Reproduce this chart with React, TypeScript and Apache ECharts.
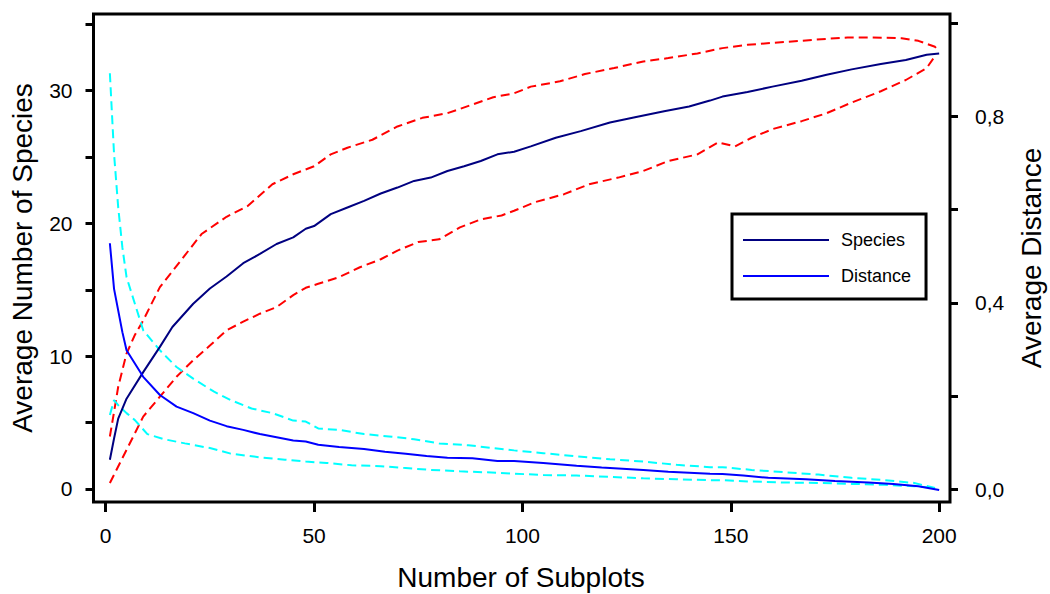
import React, { useEffect, useRef } from 'react';
import * as echarts from 'echarts';

// Number of subplots (x) and average number of species (left axis)
const speciesX = [1, 2, 3, 5, 9, 13, 16, 21, 25, 29, 33, 37, 41, 45, 48, 50, 54, 58, 62, 66, 70, 74, 78, 82, 86, 90, 94, 98, 102, 108, 114, 121, 127, 134, 140, 145, 148, 154, 160, 167, 173, 179, 186, 192, 197, 200];
const speciesY = [2.2, 3.8, 5.3, 6.8, 8.8, 10.7, 12.2, 13.95, 15.1, 16.0, 17.0, 17.7, 18.45, 18.95, 19.6, 19.8, 20.7, 21.2, 21.7, 22.25, 22.7, 23.2, 23.45, 23.95, 24.3, 24.7, 25.2, 25.4, 25.8, 26.45, 26.95, 27.6, 28.0, 28.45, 28.8, 29.25, 29.55, 29.9, 30.3, 30.75, 31.2, 31.6, 32.0, 32.3, 32.7, 32.8];

const speciesHiX = [1, 2, 3, 5, 7, 9, 13, 18, 23, 29, 34, 40, 45, 47, 50, 54, 58, 64, 70, 76, 82, 88, 93, 98, 102, 109, 115, 122, 129, 135, 142, 148, 154, 160, 167, 173, 178, 184, 191, 195, 199, 200];
const speciesHiY = [3.95, 5.8, 7.7, 10.2, 11.6, 12.7, 15.2, 17.2, 19.2, 20.5, 21.3, 22.95, 23.7, 23.95, 24.3, 25.2, 25.7, 26.3, 27.3, 27.95, 28.3, 28.95, 29.5, 29.8, 30.3, 30.7, 31.25, 31.7, 32.2, 32.45, 32.8, 33.2, 33.45, 33.6, 33.75, 33.9, 34.0, 34.0, 33.95, 33.75, 33.3, 32.95];

const speciesLoX = [1, 5, 9, 13, 17, 21, 25, 29, 33, 37, 41, 45, 48, 51, 56, 61, 66, 70, 75, 80, 85, 90, 95, 98, 103, 110, 116, 123, 129, 135, 142, 147, 151, 155, 160, 167, 173, 179, 186, 192, 197, 199];
const speciesLoY = [0.45, 2.95, 5.45, 6.95, 8.45, 9.7, 10.8, 11.95, 12.6, 13.2, 13.7, 14.6, 15.15, 15.45, 15.95, 16.7, 17.3, 17.95, 18.6, 18.8, 19.7, 20.3, 20.6, 20.95, 21.6, 22.2, 22.95, 23.45, 23.95, 24.7, 25.2, 26.1, 25.8, 26.45, 27.1, 27.7, 28.3, 29.1, 29.95, 30.8, 31.7, 32.6];

// Average distance (right axis)
const distanceX = [1, 2, 4, 5, 9, 13, 17, 21, 25, 29, 33, 37, 41, 45, 48, 51, 56, 62, 67, 72, 77, 82, 88, 94, 98, 105, 113, 119, 129, 135, 145, 148, 153, 159, 168, 175, 183, 189, 195, 200];
const distanceY = [0.528, 0.43, 0.337, 0.298, 0.241, 0.202, 0.177, 0.163, 0.147, 0.135, 0.127, 0.118, 0.111, 0.104, 0.102, 0.095, 0.09, 0.086, 0.08, 0.076, 0.071, 0.067, 0.066, 0.06, 0.06, 0.056, 0.05, 0.046, 0.041, 0.037, 0.033, 0.032, 0.029, 0.024, 0.021, 0.017, 0.014, 0.011, 0.006, -0.002];

const distanceHiX = [1, 2, 3, 4, 5, 7, 9, 13, 17, 21, 26, 30, 35, 40, 45, 48, 51, 56, 62, 68, 74, 80, 87, 93, 98, 105, 113, 121, 129, 137, 145, 148, 155, 163, 171, 179, 187, 194, 199];
const distanceHiY = [0.893, 0.72, 0.605, 0.519, 0.455, 0.398, 0.341, 0.298, 0.262, 0.237, 0.209, 0.191, 0.173, 0.163, 0.147, 0.145, 0.13, 0.127, 0.118, 0.113, 0.107, 0.098, 0.094, 0.088, 0.083, 0.077, 0.07, 0.064, 0.059, 0.052, 0.047, 0.047, 0.041, 0.036, 0.031, 0.024, 0.019, 0.013, 0.002];

const distanceLoX = [1, 2, 3, 5, 7, 10, 14, 19, 25, 30, 37, 43, 48, 53, 59, 66, 72, 78, 85, 91, 98, 105, 113, 121, 129, 137, 145, 148, 155, 163, 171, 179, 187, 194, 199];
const distanceLoY = [0.159, 0.191, 0.18, 0.163, 0.148, 0.118, 0.107, 0.098, 0.088, 0.076, 0.068, 0.063, 0.059, 0.056, 0.051, 0.049, 0.045, 0.041, 0.038, 0.036, 0.033, 0.03, 0.029, 0.026, 0.023, 0.021, 0.019, 0.019, 0.016, 0.014, 0.013, 0.011, 0.009, 0.006, 0.002];

// Axis ticks / labels
const xTicks = [0, 50, 100, 150, 200];
const leftTicks = [0, 5, 10, 15, 20, 25, 30, 35];
const leftLabels = [0, 10, 20, 30];
const rightTicks = [0, 0.2, 0.4, 0.6, 0.8, 1.0];
const rightLabels = [0, 0.4, 0.8];

const FONT = "'Liberation Sans', Arial, sans-serif";

const zip = (xs: number[], ys: number[]) => xs.map((x, i) => [x, ys[i]]);

export default function App() {
  const ref = useRef<HTMLDivElement>(null);
  useEffect(() => {
    const chart = echarts.init(ref.current!, null, { renderer: 'svg' });
    const tickStyle = { color: '#000', width: 3 };
    const dashed = (color: string) => ({ color, width: 2, type: [9, 5] as any });
    const titleStyle = (text: string) => ({
      text,
      fontFamily: FONT,
      fontSize: 28,
      fill: '#000',
      textAlign: 'center',
      textVerticalAlign: 'middle',
    });
    chart.setOption({
      animation: false,
      backgroundColor: '#fff',
      grid: {
        left: 93.5,
        right: 100,
        top: 14,
        bottom: 92,
        show: true,
        borderColor: '#000',
        borderWidth: 3,
        backgroundColor: 'transparent',
      },
      legend: {
        data: ['Species', 'Distance'],
        orient: 'vertical',
        left: 732,
        top: 214,
        padding: [17, 15, 14, 11],
        itemGap: 18,
        itemWidth: 86,
        itemHeight: 2,
        icon: 'rect',
        borderColor: '#000',
        borderWidth: 3,
        backgroundColor: '#fff',
        textStyle: { fontFamily: FONT, fontSize: 18, color: '#000', padding: [0, 0, 0, 7] },
      },
      xAxis: {
        type: 'value',
        min: -2.93,
        max: 202.6,
        axisLine: { show: false, onZero: false },
        splitLine: { show: false },
        axisTick: { show: true, inside: false, customValues: xTicks, length: 10, lineStyle: tickStyle },
        axisLabel: { customValues: xTicks, margin: 23, fontSize: 21, fontFamily: FONT, color: '#000' },
      },
      yAxis: [
        {
          type: 'value',
          position: 'left',
          min: -0.98,
          max: 35.77,
          axisLine: { show: false, onZero: false },
          splitLine: { show: false },
          axisTick: { show: true, inside: false, customValues: leftTicks, length: 8, lineStyle: tickStyle },
          axisLabel: { customValues: leftLabels, margin: 21, fontSize: 21, fontFamily: FONT, color: '#000' },
        },
        {
          type: 'value',
          position: 'right',
          min: -0.0279,
          max: 1.0204,
          axisLine: { show: false, onZero: false },
          splitLine: { show: false },
          axisTick: { show: true, inside: false, customValues: rightTicks, length: 8, lineStyle: tickStyle },
          axisLabel: {
            customValues: rightLabels,
            margin: 25,
            fontSize: 21,
            fontFamily: FONT,
            color: '#000',
            formatter: (v: number) => v.toFixed(1).replace('.', ','),
          },
        },
      ],
      graphic: [
        { type: 'text', x: 22, y: 258, rotation: Math.PI / 2, style: titleStyle('Average Number of Species') },
        { type: 'text', x: 1031, y: 258, rotation: Math.PI / 2, style: titleStyle('Average Distance') },
        { type: 'text', x: 521, y: 577, style: titleStyle('Number of Subplots') },
      ],
      series: [
        { name: 'Species upper', type: 'line', yAxisIndex: 0, symbol: 'none', data: zip(speciesHiX, speciesHiY), lineStyle: dashed('#ff0000') },
        { name: 'Species lower', type: 'line', yAxisIndex: 0, symbol: 'none', data: zip(speciesLoX, speciesLoY), lineStyle: dashed('#ff0000') },
        { name: 'Distance upper', type: 'line', yAxisIndex: 1, symbol: 'none', data: zip(distanceHiX, distanceHiY), lineStyle: dashed('#00ffff') },
        { name: 'Distance lower', type: 'line', yAxisIndex: 1, symbol: 'none', data: zip(distanceLoX, distanceLoY), lineStyle: dashed('#00ffff') },
        { name: 'Species', type: 'line', yAxisIndex: 0, symbol: 'none', color: '#000080', data: zip(speciesX, speciesY), lineStyle: { color: '#000080', width: 2 } },
        { name: 'Distance', type: 'line', yAxisIndex: 1, symbol: 'none', color: '#0000ff', data: zip(distanceX, distanceY), lineStyle: { color: '#0000ff', width: 2 } },
      ],
    });
    return () => chart.dispose();
  }, []);
  return <div ref={ref} style={{ position: 'fixed', left: 0, top: 0, width: 1050, height: 594, background: '#fff' }} />;
}
